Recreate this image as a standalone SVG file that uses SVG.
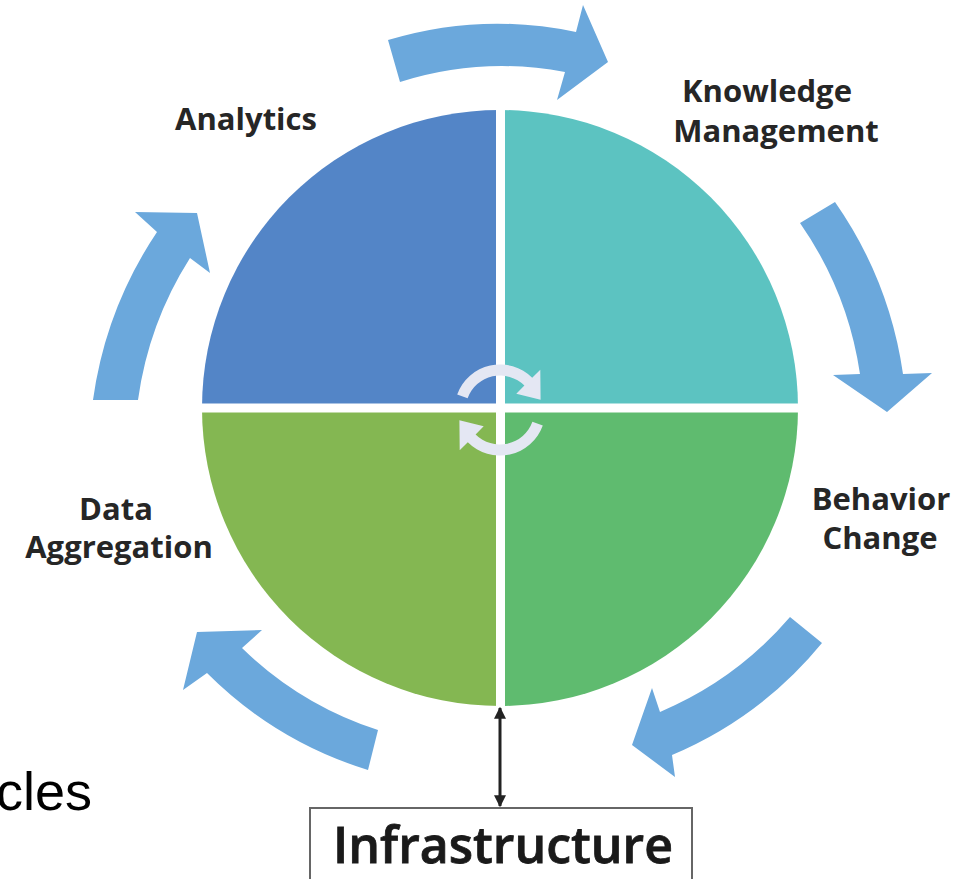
<svg xmlns="http://www.w3.org/2000/svg" width="956" height="879" viewBox="0 0 956 879">
<defs>
<style>
.lbl{font-family:"Open Sans","DejaVu Sans",sans-serif;font-weight:700;font-size:31px;fill:#262626;text-anchor:middle}
.arr{fill:#6BA8DC}
.cyc{fill:#E4E7F3}
.conn{stroke:#222;stroke-width:3;fill:none}
</style>
<marker id="ah" viewBox="0 0 10 10" refX="9" refY="5" markerWidth="4" markerHeight="4" orient="auto-start-reverse" markerUnits="strokeWidth">
<path d="M0 0 L10 5 L0 10 Z" fill="#222"/>
</marker>
</defs>
<rect width="956" height="879" fill="#fff"/>
<g id="quadrants">
<path id="q-analytics" d="M500 408 L202 408 A298 298 0 0 1 500 110 Z" fill="#5385C7"/>
<path id="q-knowledge" d="M500 408 L500 110 A298 298 0 0 1 798 408 Z" fill="#5CC3C1"/>
<path id="q-behavior" d="M500 408 L798 408 A298 298 0 0 1 500 706 Z" fill="#5FBB6F"/>
<path id="q-data" d="M500 408 L500 706 A298 298 0 0 1 202 408 Z" fill="#84B752"/>
<path d="M500.5 105 V708 M198 408 H802" stroke="#fff" stroke-width="9"/>
</g>
<g id="center-cycle">
<path class="cyc" d="M457.2 394.4 A45.5 45.5 0 0 1 532.2 377.8 L540.3 369.7 L540.6 399.7 L516.3 393.7 L524.4 385.6 A34.5 34.5 0 0 0 467.6 398.2 Z"/>
<path class="cyc" transform="rotate(180 500 410)" d="M457.2 394.4 A45.5 45.5 0 0 1 532.2 377.8 L540.3 369.7 L540.6 399.7 L516.3 393.7 L524.4 385.6 A34.5 34.5 0 0 0 467.6 398.2 Z"/>
</g>
<g id="connectors">
<path id="arrow-top" class="arr" d="M388 40 A380 380 0 0 1 576 32 L583 5 L608 62 L557 100 L565 72 A340 340 0 0 0 400 82 Z"/>
<path id="arrow-right" class="arr" d="M835 202 A400 400 0 0 1 903 374 L932 373 L887 412 L833 375 L860 374 A355 355 0 0 0 800 223 Z"/>
<path id="arrow-bottom-right" class="arr" d="M822 643 A390 390 0 0 1 672 755 L675 777 L632 745 L652 688 L660 712 A350 350 0 0 0 790 617 Z"/>
<path id="arrow-bottom-left" class="arr" d="M368 770 A390 390 0 0 1 207 673 L183 690 L197 632 L262 630 L242 648 A350 350 0 0 0 378 730 Z"/>
<path id="arrow-left" class="arr" d="M93 400 A400 400 0 0 1 157 232 L135 212 L197 213 L210 273 L190 258 A355 355 0 0 0 138 400 Z"/>
<line class="conn" x1="500" y1="708" x2="500" y2="806" marker-start="url(#ah)" marker-end="url(#ah)"/>
</g>
<g id="label-analytics"><text class="lbl" x="246" y="130">Analytics</text></g>
<g id="label-knowledge"><text class="lbl" x="767" y="102">Knowledge</text><text class="lbl" x="776" y="142">Management</text></g>
<g id="label-behavior"><text class="lbl" x="881" y="510">Behavior</text><text class="lbl" x="880" y="549">Change</text></g>
<g id="label-data"><text class="lbl" x="116" y="520">Data</text><text class="lbl" x="119" y="558">Aggregation</text></g>
<g id="infrastructure">
<rect x="310" y="808" width="382" height="90" fill="#fff" stroke="#666" stroke-width="2"/>
<text x="503" y="863" font-family="'Open Sans','DejaVu Sans',sans-serif" font-weight="600" font-size="50" fill="#1a1a1a" stroke="#1a1a1a" stroke-width="0.8" text-anchor="middle">Infrastructure</text>
</g>
<text x="-4" y="810" font-family="'Liberation Sans',Arial,sans-serif" font-size="54" fill="#000">cles</text>
</svg>
